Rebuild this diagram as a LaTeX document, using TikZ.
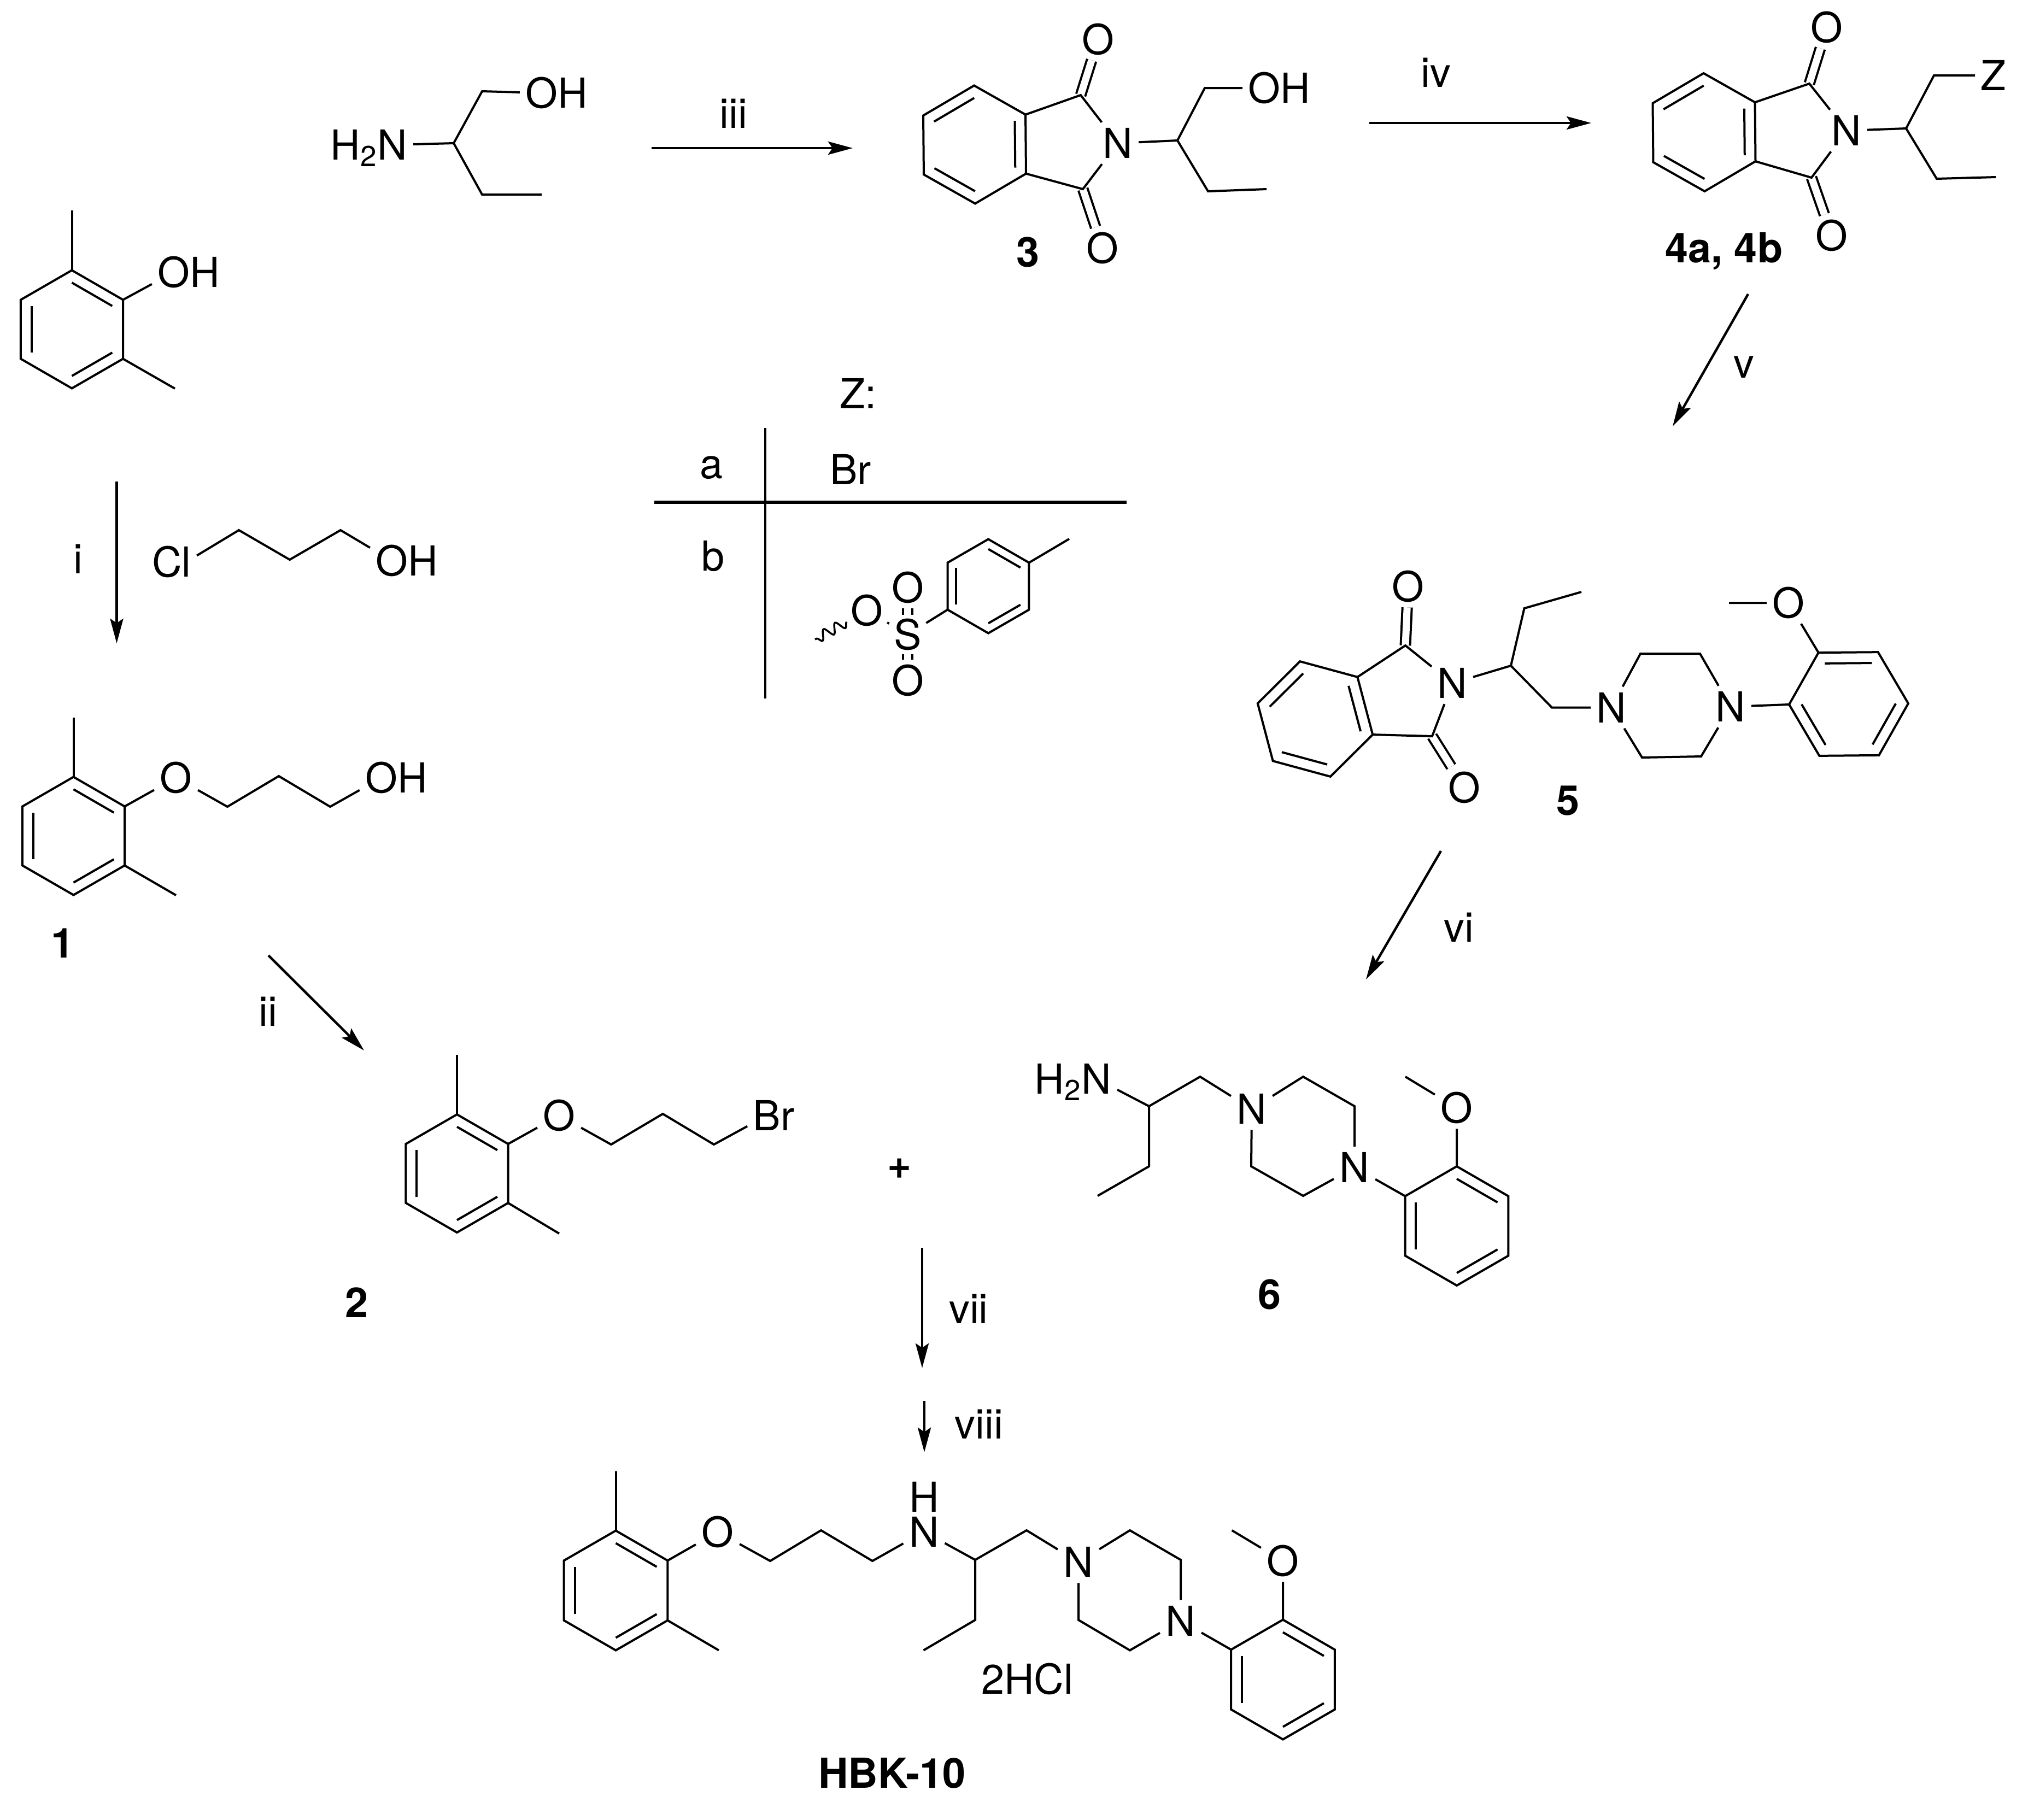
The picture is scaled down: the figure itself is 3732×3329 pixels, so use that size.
\documentclass[tikz,border=0pt]{standalone}
\usepackage{fontspec}
\setmainfont{TeX Gyre Heros}
\usetikzlibrary{arrows.meta,decorations.pathmorphing}
\newcommand{\chemsize}{\fontsize{21.5}{24}\selectfont}
\tikzset{%
  bond/.style   = {line width=0.04cm},%
  dbond/.style  = {line width=0.04cm,double,double distance=0.13cm},%
  rxn/.style    = {line width=0.045cm,-{Stealth[length=0.45cm,width=0.24cm,inset=0.08cm]}},%
  atom/.style   = {font=\chemsize,inner sep=0.1cm,text height=0.55cm,text depth=0pt},%
  lab/.style    = {atom,inner sep=0pt},%
  cmpd/.style   = {lab,font=\chemsize\bfseries},%
  pics/benzring/.style 2 args = {code={%
    \foreach \k in {0,...,5} {\coordinate (-\k) at ({#1+60*\k}:#2);}
    \draw[bond] (-0) -- (-1) -- (-2) -- (-3) -- (-4) -- (-5) -- cycle;
    \foreach \k in {0,2,4} {\draw[bond] ({#1+60*\k}:{.79*#2}) -- ({#1+60*\k+60}:{.79*#2});}
  }}%
}
\begin{document}
\begin{tikzpicture}[x=0.01cm,y=-0.01cm]
	\useasboundingbox (0,0) rectangle (3732,3329);
	% dimethylphenol
	\pic (ra) at (131.5,602.5) {benzring={-90}{108}};
	\coordinate (ame1) at (131.5,385);
	\coordinate (ame2) at (320,711);
	\node[atom] (aoh) at (318,498) {O\rlap{H}};
	\draw[bond] (ra-0) -- (ame1);
	\draw[bond] (ra-2) -- (ame2);
	\draw[bond] (ra-1) -- (aoh);
	% aminobutanol
	\node[atom] (bn) at (718,265) {\llap{H\textsubscript{2}}N};
	\node[atom] (boh) at (991,170) {O\rlap{H}};
	\coordinate (bc1) at (830,262);
	\coordinate (bc2) at (882,167);
	\coordinate (bc3) at (882,356);
	\coordinate (bc4) at (991,356);
	\draw[bond] (bn) -- (bc1) -- (bc2) -- (boh);
	\draw[bond] (bc1) -- (bc3) -- (bc4);
	% compound 3
	\node[atom] (n3) at (2045,262) {N};
	\node[atom] (o3a) at (2009,72) {O};
	\node[atom] (o3b) at (2017,454) {O};
	\node[atom] (oh3) at (2313,161) {O\rlap{H}};
	\coordinate (c3a) at (1977,174);
	\coordinate (c3b) at (1981,346);
	\coordinate (c3c) at (2154,257);
	\coordinate (c3d) at (2204,161);
	\coordinate (c3e) at (2210,350);
	\coordinate (c3f) at (2317,346);
	\draw[dbond] (c3a) -- (o3a);
	\draw[dbond] (c3b) -- (o3b);
	\pic (r3) at (1783,264.5) {benzring={-30.5}{108}};
	\draw[bond] (r3-0) -- (c3a) -- (n3) -- (c3b) -- (r3-1);
	\draw[bond] (n3) -- (c3c) -- (c3d) -- (oh3);
	\draw[bond] (c3c) -- (c3e) -- (c3f);
	\node[cmpd] (l3) at (1881,461) {3};
	% compound 4
	\node[atom] (n4) at (3378,239) {N};
	\node[atom] (o4a) at (3342,50) {O};
	\node[atom] (o4b) at (3351,431) {O};
	\node[atom] (z4) at (3647,138) {Z};
	\coordinate (c4a) at (3310,153);
	\coordinate (c4b) at (3314,325);
	\coordinate (c4c) at (3487,235);
	\coordinate (c4d) at (3538,138);
	\coordinate (c4e) at (3543,327);
	\coordinate (c4f) at (3651,324);
	\draw[dbond] (c4a) -- (o4a);
	\draw[dbond] (c4b) -- (o4b);
	\pic (r4) at (3117.5,242) {benzring={-30.5}{108}};
	\draw[bond] (r4-0) -- (c4a) -- (n4) -- (c4b) -- (r4-1);
	\draw[bond] (n4) -- (c4c) -- (c4d) -- (z4);
	\draw[bond] (c4c) -- (c4e) -- (c4f);
	\node[cmpd] (l4) at (3154,453) {4a, 4b};
	% table of Z
	\node[lab] (zt) at (1570,720) {Z:};
	\coordinate (tv1) at (1400,783);
	\coordinate (tv2) at (1400,1278);
	\coordinate (th1) at (1197,919);
	\coordinate (th2) at (2061,919);
	\draw[bond] (tv1) -- (tv2);
	\draw[line width=0.054cm] (th1) -- (th2);
	\node[lab] (ta) at (1302,848) {a};
	\node[lab] (tbr) at (1556,859) {Br};
	\node[lab] (tb) at (1305,1017) {b};
	% tosylate
	\pic (rt) at (1808,1072.5) {benzring={-90}{86}};
	\node[atom,inner sep=0.08cm] (ts) at (1660.5,1161) {S};
	\node[atom] (to1) at (1660.5,1075) {O};
	\node[atom,inner sep=0.07cm] (to2) at (1586,1117) {O};
	\node[atom] (to3) at (1660.5,1245) {O};
	\coordinate (tme) at (1956,986);
	\coordinate (twv) at (1491,1170);
	\draw[bond] (rt-1) -- (tme);
	\draw[bond] (rt-4) -- (ts);
	\draw[bond] (to2) -- (ts);
	\draw[dbond] (ts) -- (to1);
	\draw[dbond] (ts) -- (to3);
	\draw[line width=0.035cm,decorate,decoration={snake,segment length=0.24cm,amplitude=0.09cm}] (to2) -- (twv);
	% chloropropanol
	\node[atom] (ccl) at (341,1028) {\llap{C}l};
	\node[atom] (coh) at (717,1026) {O\rlap{H}};
	\coordinate (cc1) at (437,970);
	\coordinate (cc2) at (530,1024);
	\coordinate (cc3) at (623,970);
	\draw[bond] (ccl) -- (cc1) -- (cc2) -- (cc3) -- (coh);
	% compound 1
	\pic (r1) at (134.5,1529.5) {benzring={-90}{108}};
	\node[atom] (o1) at (322,1423) {O};
	\node[atom] (oh1) at (698,1423) {O\rlap{H}};
	\coordinate (me1a) at (134.5,1313);
	\coordinate (me1b) at (322,1638);
	\coordinate (c1a) at (416,1476);
	\coordinate (c1b) at (510,1420);
	\coordinate (c1c) at (604,1476);
	\draw[bond] (r1-0) -- (me1a);
	\draw[bond] (r1-2) -- (me1b);
	\draw[bond] (r1-1) -- (o1) -- (c1a) -- (c1b) -- (c1c) -- (oh1);
	\node[cmpd] (l1) at (115,1725) {1};
	% compound 2
	\pic (r2) at (836,2147) {benzring={-90}{108}};
	\node[atom] (o2) at (1023,2041) {O};
	\node[atom] (br2) at (1403,2041) {B\rlap{r}};
	\coordinate (me2a) at (836,1930);
	\coordinate (me2b) at (1023,2257);
	\coordinate (c2a) at (1118,2094);
	\coordinate (c2b) at (1212.5,2038);
	\coordinate (c2c) at (1306,2094);
	\draw[bond] (r2-0) -- (me2a);
	\draw[bond] (r2-2) -- (me2b);
	\draw[bond] (r2-1) -- (o2) -- (c2a) -- (c2b) -- (c2c) -- (br2);
	\node[cmpd] (l2) at (653,2383) {2};
	\node[cmpd] (plus) at (1646,2129) {+};
	% compound 5
	\node[atom] (n5) at (2657,1250) {N};
	\node[atom] (o5a) at (2576,1073) {O};
	\node[atom] (o5b) at (2679,1441) {O};
	\node[atom] (n5a) at (2948,1294.5) {N};
	\node[atom] (n5b) at (3166,1293) {N};
	\node[atom] (o5c) at (3272,1103) {O};
	\coordinate (c5a) at (2571,1181);
	\coordinate (c5b) at (2620,1347);
	\coordinate (c5c) at (2764,1218);
	\coordinate (c5d) at (2788.5,1113);
	\coordinate (c5e) at (2893,1083);
	\coordinate (c5f) at (2839,1294.5);
	\coordinate (p5a) at (3001,1196);
	\coordinate (p5b) at (3110,1196);
	\coordinate (p5c) at (3112,1384);
	\coordinate (p5d) at (3004,1386);
	\coordinate (me5) at (3163,1103);
	\draw[dbond] (c5a) -- (o5a);
	\draw[dbond] (c5b) -- (o5b);
	\pic (r5) at (2406,1315.5) {benzring={-44.8}{109}};
	\pic (r5b) at (3382,1288) {benzring={-120.5}{109}};
	\draw[bond] (r5-0) -- (c5a) -- (n5) -- (c5b) -- (r5-1);
	\draw[bond] (n5) -- (c5c) -- (c5d) -- (c5e);
	\draw[bond] (c5c) -- (c5f) -- (n5a);
	\draw[bond] (n5a) -- (p5a) -- (p5b) -- (n5b) -- (p5c) -- (p5d) -- (n5a);
	\draw[bond] (n5b) -- (r5b-5);
	\draw[bond] (r5b-0) -- (o5c) -- (me5);
	\node[cmpd] (l5) at (2868,1464) {5};
	% compound 6
	\node[atom] (n6) at (2006,1974) {\llap{H\textsubscript{2}}N};
	\node[atom] (n6a) at (2290,2029) {N};
	\node[atom] (n6b) at (2478,2136) {N};
	\node[atom] (o6) at (2665,2027) {O};
	\coordinate (c6a) at (2102,2024);
	\coordinate (c6b) at (2195.5,1970);
	\coordinate (c6c) at (2102,2134);
	\coordinate (c6d) at (2008,2188);
	\coordinate (p6a) at (2384,1970);
	\coordinate (p6b) at (2478,2024);
	\coordinate (p6c) at (2384,2188);
	\coordinate (p6d) at (2289,2134);
	\coordinate (me6) at (2571,1970);
	\pic (r6) at (2665,2243) {benzring={-90}{109}};
	\draw[bond] (n6) -- (c6a) -- (c6b) -- (n6a);
	\draw[bond] (c6a) -- (c6c) -- (c6d);
	\draw[bond] (n6a) -- (p6a) -- (p6b) -- (n6b) -- (p6c) -- (p6d) -- (n6a);
	\draw[bond] (n6b) -- (r6-5);
	\draw[bond] (r6-0) -- (o6) -- (me6);
	\node[cmpd] (l6) at (2322,2368) {6};
	% HBK-10
	\pic (rh) at (1126.5,2910) {benzring={-90}{109.5}};
	\node[atom] (oh) at (1313,2803) {O};
	\node[atom,inner ysep=0.04cm] (nh) at (1690.5,2802.6) {N};
	\node[lab] (hh) at (1690.5,2739) {H};
	\node[atom] (nha) at (1973,2858) {N};
	\node[atom] (nhb) at (2160,2965.5) {N};
	\node[atom] (ohb) at (2347,2856) {O};
	\coordinate (meha) at (1126.5,2692);
	\coordinate (mehb) at (1315,3019.5);
	\coordinate (cha) at (1409,2856);
	\coordinate (chb) at (1502,2800);
	\coordinate (chc) at (1596,2856);
	\coordinate (chd) at (1784,2854);
	\coordinate (che) at (1878,2800);
	\coordinate (chf) at (1784,2964);
	\coordinate (chg) at (1689.5,3019.5);
	\coordinate (pha) at (2067,2800);
	\coordinate (phb) at (2160,2854);
	\coordinate (phc) at (2067,3019.5);
	\coordinate (phd) at (1973,2964);
	\coordinate (mehc) at (2253.6,2800);
	\pic (rhb) at (2347,3073) {benzring={-90}{109.5}};
	\draw[bond] (rh-0) -- (meha);
	\draw[bond] (rh-2) -- (mehb);
	\draw[bond] (rh-1) -- (oh) -- (cha) -- (chb) -- (chc) -- (nh) -- (chd) -- (che) -- (nha);
	\draw[bond] (chd) -- (chf) -- (chg);
	\draw[bond] (nha) -- (pha) -- (phb) -- (nhb) -- (phc) -- (phd) -- (nha);
	\draw[bond] (nhb) -- (rhb-5);
	\draw[bond] (rhb-0) -- (ohb) -- (mehc);
	\node[lab] (hcl) at (1879,3072) {2HCl};
	\node[cmpd] (lh) at (1632,3244) {HBK-10};
	% reaction arrows
	\coordinate (ia) at (213.5,881);
	\coordinate (ib) at (213.5,1177);
	\coordinate (iia) at (491,1748);
	\coordinate (iib) at (666,1922);
	\coordinate (iiia) at (1192,271);
	\coordinate (iiib) at (1560,271);
	\coordinate (iva) at (2505,225);
	\coordinate (ivb) at (2911,225);
	\coordinate (va) at (3198,538);
	\coordinate (vb) at (3060,780);
	\coordinate (via) at (2636,1557);
	\coordinate (vib) at (2499,1792);
	\coordinate (viia) at (1687,2283);
	\coordinate (viib) at (1687,2503);
	\coordinate (viiia) at (1691,2563);
	\coordinate (viiib) at (1691,2657);
	\draw[rxn] (ia) -- (ib);
	\draw[rxn] (iia) -- (iib);
	\draw[rxn] (iiia) -- (iiib);
	\draw[rxn] (iva) -- (ivb);
	\draw[rxn] (va) -- (vb);
	\draw[rxn] (via) -- (vib);
	\draw[rxn] (viia) -- (viib);
	\draw[rxn] (viiia) -- (viiib);
	\node[lab] (li) at (143,1022) {i};
	\node[lab] (lii) at (490,1850) {ii};
	\node[lab] (liii) at (1342,207) {iii};
	\node[lab] (liv) at (2627,132) {iv};
	\node[lab] (lv) at (3190,664) {v};
	\node[lab] (lvi) at (2669,1696) {vi};
	\node[lab] (lvii) at (1772,2394) {vii};
	\node[lab] (lviii) at (1791,2605) {viii};
\end{tikzpicture}
\end{document}
